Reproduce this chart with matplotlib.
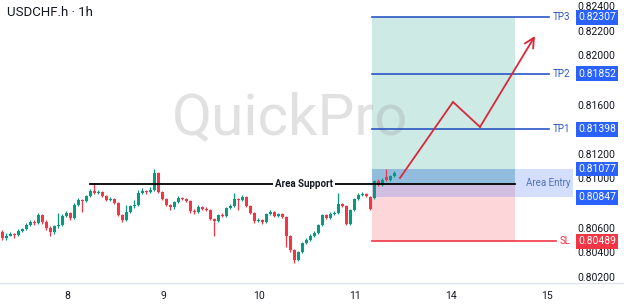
import matplotlib
matplotlib.use("Agg")
import matplotlib.pyplot as plt
import matplotlib.transforms as mtransforms
from matplotlib.lines import Line2D
import numpy as np

plt.rcParams['font.family'] = ['Roboto', 'DejaVu Sans']

# hourly candles, USDCHF.h
opens = [0.80565, 0.80517, 0.80533, 0.80549, 0.80541, 0.80574, 0.80590, 0.80622, 0.80647, 0.80638,
         0.80703, 0.80647, 0.80598, 0.80565, 0.80614, 0.80622, 0.80695, 0.80720, 0.80679, 0.80785,
         0.80825, 0.80817, 0.80858, 0.80898, 0.80882, 0.80890, 0.80858, 0.80825, 0.80833, 0.80801,
         0.80703, 0.80663, 0.80728, 0.80777, 0.80785, 0.80882, 0.80898, 0.80890, 0.80906, 0.81044,
         0.80890, 0.80833, 0.80785, 0.80768, 0.80809, 0.80841, 0.80833, 0.80817, 0.80736, 0.80728,
         0.80768, 0.80752, 0.80744, 0.80671, 0.80655, 0.80703, 0.80695, 0.80760, 0.80777, 0.80833,
         0.80825, 0.80850, 0.80777, 0.80720, 0.80655, 0.80663, 0.80647, 0.80712, 0.80728, 0.80695,
         0.80712, 0.80687, 0.80533, 0.80419, 0.80338, 0.80403, 0.80476, 0.80500, 0.80533, 0.80557,
         0.80622, 0.80703, 0.80679, 0.80712, 0.80720, 0.80793, 0.80777, 0.80630, 0.80744, 0.80833,
         0.80866, 0.80874, 0.80850, 0.80841, 0.80980, 0.80947, 0.81012, 0.80988, 0.81020]
closes = [0.80517, 0.80533, 0.80549, 0.80541, 0.80574, 0.80590, 0.80622, 0.80647, 0.80638, 0.80703,
          0.80647, 0.80598, 0.80565, 0.80614, 0.80622, 0.80695, 0.80720, 0.80679, 0.80785, 0.80825,
          0.80817, 0.80858, 0.80898, 0.80882, 0.80890, 0.80858, 0.80825, 0.80833, 0.80801, 0.80703,
          0.80663, 0.80728, 0.80777, 0.80785, 0.80882, 0.80898, 0.80890, 0.80906, 0.81044, 0.80890,
          0.80833, 0.80785, 0.80768, 0.80809, 0.80841, 0.80833, 0.80817, 0.80736, 0.80728, 0.80768,
          0.80752, 0.80744, 0.80671, 0.80655, 0.80703, 0.80695, 0.80760, 0.80777, 0.80833, 0.80825,
          0.80850, 0.80777, 0.80720, 0.80655, 0.80663, 0.80647, 0.80712, 0.80728, 0.80695, 0.80712,
          0.80687, 0.80533, 0.80419, 0.80338, 0.80403, 0.80476, 0.80500, 0.80533, 0.80557, 0.80622,
          0.80703, 0.80679, 0.80712, 0.80720, 0.80793, 0.80777, 0.80630, 0.80744, 0.80833, 0.80866,
          0.80874, 0.80858, 0.80752, 0.80980, 0.80947, 0.80988, 0.80988, 0.81020, 0.81044]
highs = [0.80582, 0.80557, 0.80565, 0.80557, 0.80590, 0.80598, 0.80638, 0.80663, 0.80663, 0.80720,
         0.80712, 0.80663, 0.80614, 0.80622, 0.80720, 0.80712, 0.80736, 0.80728, 0.80801, 0.80841,
         0.80833, 0.80866, 0.80915, 0.80963, 0.80906, 0.80898, 0.80866, 0.80850, 0.80841, 0.80809,
         0.80712, 0.80785, 0.80785, 0.80825, 0.80906, 0.80923, 0.80906, 0.80931, 0.81077, 0.81053,
         0.80898, 0.80841, 0.80793, 0.80817, 0.80858, 0.80850, 0.80841, 0.80825, 0.80752, 0.80785,
         0.80777, 0.80768, 0.80752, 0.80679, 0.80712, 0.80720, 0.80768, 0.80793, 0.80882, 0.80841,
         0.80866, 0.80858, 0.80785, 0.80728, 0.80679, 0.80671, 0.80720, 0.80744, 0.80736, 0.80720,
         0.80720, 0.80695, 0.80541, 0.80427, 0.80411, 0.80484, 0.80517, 0.80549, 0.80574, 0.80630,
         0.80712, 0.80712, 0.80728, 0.80736, 0.80882, 0.80801, 0.80785, 0.80752, 0.80841, 0.80882,
         0.80890, 0.80882, 0.80858, 0.80988, 0.80996, 0.81004, 0.81077, 0.81028, 0.81061]
lows = [0.80500, 0.80500, 0.80533, 0.80517, 0.80533, 0.80565, 0.80582, 0.80614, 0.80622, 0.80630,
        0.80630, 0.80582, 0.80533, 0.80549, 0.80598, 0.80614, 0.80687, 0.80663, 0.80671, 0.80777,
        0.80728, 0.80809, 0.80850, 0.80874, 0.80874, 0.80850, 0.80817, 0.80817, 0.80793, 0.80695,
        0.80647, 0.80655, 0.80720, 0.80760, 0.80777, 0.80874, 0.80874, 0.80882, 0.80898, 0.80882,
        0.80825, 0.80777, 0.80744, 0.80752, 0.80801, 0.80825, 0.80809, 0.80720, 0.80712, 0.80720,
        0.80744, 0.80736, 0.80663, 0.80533, 0.80647, 0.80687, 0.80687, 0.80752, 0.80768, 0.80744,
        0.80817, 0.80768, 0.80712, 0.80638, 0.80647, 0.80630, 0.80638, 0.80703, 0.80687, 0.80687,
        0.80679, 0.80444, 0.80403, 0.80314, 0.80330, 0.80395, 0.80468, 0.80492, 0.80525, 0.80549,
        0.80614, 0.80671, 0.80671, 0.80703, 0.80712, 0.80768, 0.80622, 0.80622, 0.80736, 0.80825,
        0.80858, 0.80850, 0.80744, 0.80833, 0.80939, 0.80939, 0.80980, 0.80980, 0.81012]

day_labels = ['8', '9', '10', '11', '14', '15']
day_pos = [16.25, 40.25, 64.25, 88.25, 112.25, 136.25]
price_ticks = [0.802, 0.804, 0.806, 0.810, 0.812, 0.816, 0.820, 0.822, 0.824]

support = 0.80955
entry_top = 0.81077
entry_bottom = 0.80847
tp_names = ['TP1', 'TP2', 'TP3']
tp_levels = [0.81398, 0.81852, 0.82307]
sl_level = 0.80489

path_x = [99.5, 112.75, 119.5, 133.25]
path_y = [0.81004, 0.81621, 0.81418, 0.82157]

up_col = '#089981'
dn_col = '#f23645'
blue = '#2962ff'
line_blue = '#2a56c6'

fig = plt.figure(figsize=(6.24, 3.06), dpi=100)
ax = fig.add_axes([0, 23 / 306, 573 / 624, 283 / 306])
x0, x1 = -0.5, 142.75
ax.set_xlim(x0, x1)
ax.set_ylim(0.80151, 0.82449)
for s in ax.spines.values():
    s.set_visible(False)

# position zone
z0, z1 = 92.5, 128.25
ax.fill_between([z0, z1], support, tp_levels[2], color=up_col, alpha=0.2, lw=0, zorder=1)
ax.fill_between([z0, z1], sl_level, support, color=dn_col, alpha=0.2, lw=0, zorder=1)
ax.fill_between([z0, x1], entry_bottom, entry_top, color=blue, alpha=0.2, lw=0, zorder=1)
ax.fill_between([z0, z1], support, entry_top, color='#1f6fa8', alpha=0.18, lw=0, zorder=1)

# watermark
ax.text(72.0, 0.81488, 'QuickPro', fontsize=42, color='#9e9e9e', alpha=0.3,
        ha='center', va='center', zorder=1.5)

# candles
idx = np.arange(len(closes))
o = np.array(opens)
c = np.array(closes)
cols = np.where(c >= o, up_col, dn_col)
ax.vlines(idx, lows, highs, colors=cols, lw=0.9, zorder=3)
body = np.maximum(np.abs(c - o), 0.00002)
ax.bar(idx, body, bottom=np.minimum(o, c), width=0.75, color=cols, lw=0, zorder=3)

# support line
ax.plot([22, z1], [support, support], color='black', lw=1.3, zorder=4)
ax.text(75.5, support, 'Area Support', fontsize=7, fontweight='bold', color='#131722',
        ha='center', va='center', zorder=5,
        bbox=dict(boxstyle='square,pad=0.25', fc='white', ec='none'))

# target / stop lines
for name, lv in zip(tp_names, tp_levels):
    ax.plot([z0, 136.8], [lv, lv], color=line_blue, lw=1.2, zorder=4)
    ax.text(142.0, lv, name, fontsize=7, color=line_blue, ha='right', va='center', zorder=5)
ax.plot([z0, 138.6], [sl_level, sl_level], color=dn_col, lw=1.2, zorder=4)
ax.text(142.0, sl_level, 'SL', fontsize=7, color=dn_col, ha='right', va='center', zorder=5)
ax.text(142.0, 0.80963, 'Area Entry', fontsize=7, color='#4f73b8', ha='right', va='center', zorder=5)

# projected path
ax.plot(path_x[:-1], path_y[:-1], color='#d9283c', lw=1.3, zorder=6, solid_joinstyle='miter')
ax.annotate('', xy=(path_x[-1], path_y[-1]), xytext=(path_x[-2], path_y[-2]),
            arrowprops=dict(arrowstyle='->,head_length=0.7,head_width=0.35',
                            color='#d9283c', lw=1.3, shrinkA=0, shrinkB=0), zorder=6)

# axes ticks
ax.set_xticks(day_pos)
ax.set_xticklabels(day_labels)
ax.tick_params(axis='x', length=0, pad=6, labelsize=7.5, labelcolor='#131722')
ax.yaxis.tick_right()
ax.set_yticks(price_ticks)
ax.set_yticklabels([f'{t:.5f}' for t in price_ticks])
ax.tick_params(axis='y', length=0, pad=3.5, labelsize=7.5, labelcolor='#131722')

# price tags
tr = mtransforms.blended_transform_factory(ax.transAxes, ax.transData)
tags = [(v, blue) for v in tp_levels] + [(entry_top, blue), (entry_bottom, blue), (sl_level, dn_col)]
for v, col in tags:
    ax.text(1.009, v, f'{v:.5f}', transform=tr, fontsize=7.5, color='white', ha='left',
            va='center', zorder=10, clip_on=False,
            bbox=dict(boxstyle='square,pad=0.22', fc=col, ec='none'))

# bottom axis line across the full width
fig.add_artist(Line2D([0, 1], [23 / 306, 23 / 306], transform=fig.transFigure,
                      color='#e0e3eb', lw=1))

fig.text(7 / 624, 1 - 12 / 306, 'USDCHF.h · 1h', fontsize=9.5, color='#131722', va='center')

fig.savefig('out.png', dpi=100)
